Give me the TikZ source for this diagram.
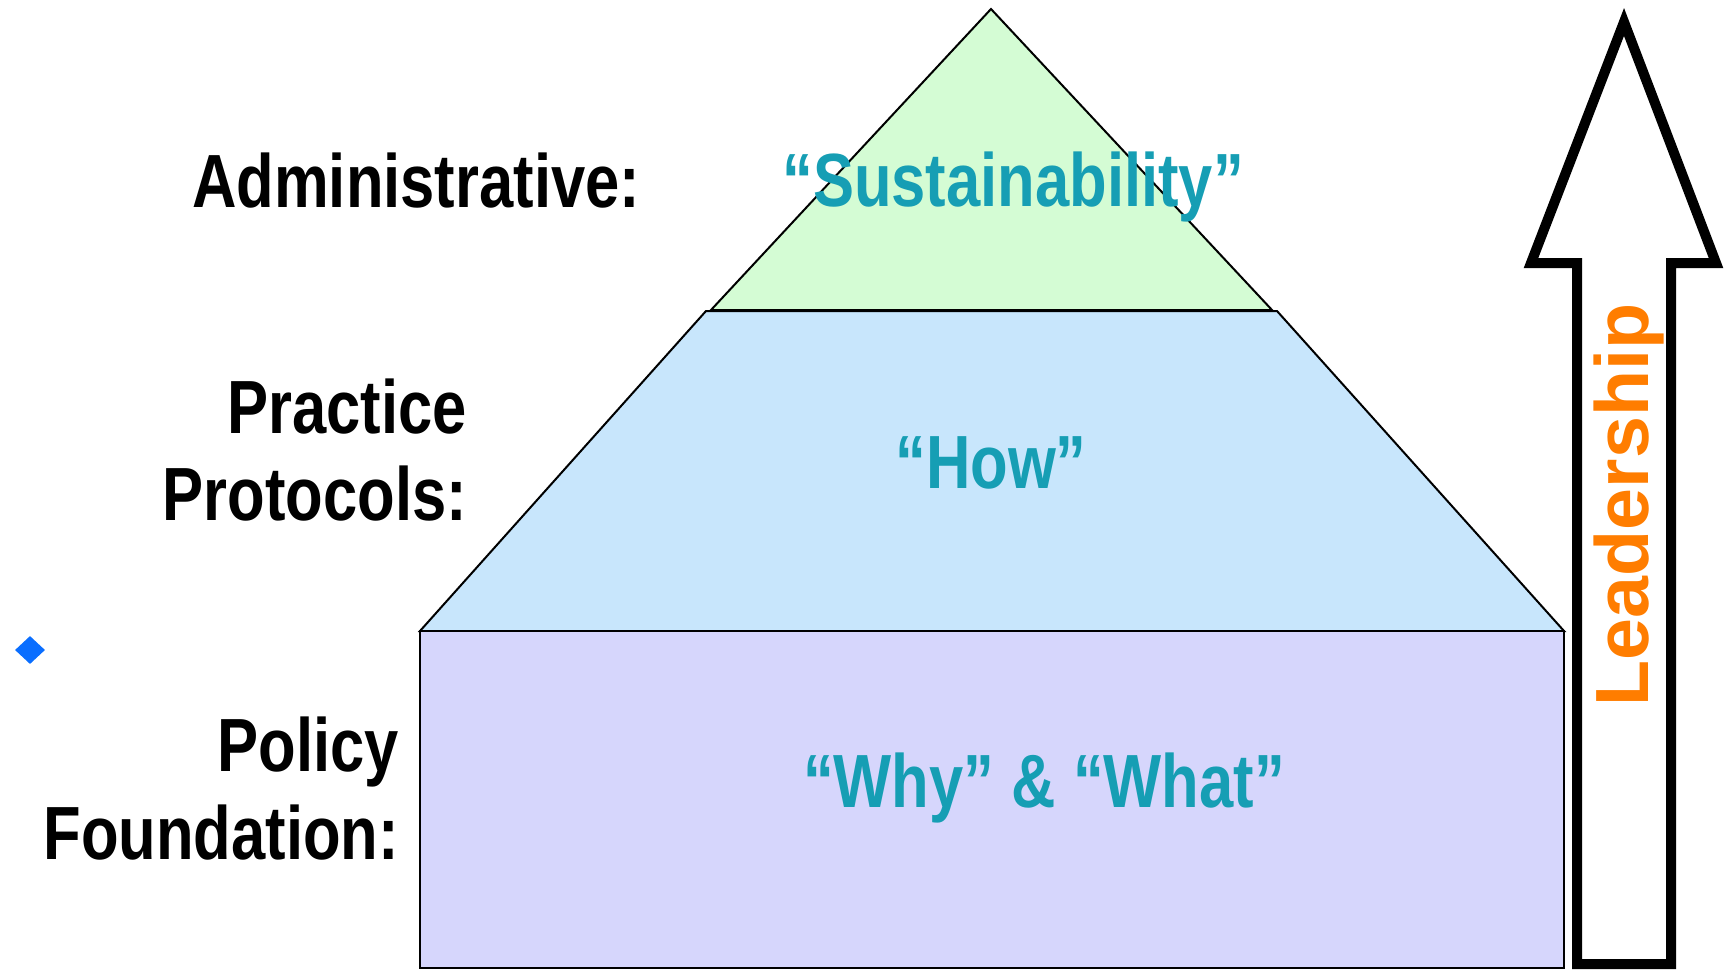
\documentclass[tikz,border=0pt]{standalone}
\usepackage{fontspec}
\setmainfont{Liberation Sans}
\newfontfamily\condfont[FakeStretch=0.816]{Liberation Sans}
\usetikzlibrary{shapes.geometric}
\definecolor{tealtxt}{RGB}{22,158,180}
\definecolor{greenfill}{RGB}{212,252,212}
\definecolor{bluefill}{RGB}{200,230,252}
\definecolor{purplefill}{RGB}{214,214,252}
\definecolor{orangetxt}{RGB}{255,125,0}
\definecolor{dotblue}{RGB}{10,110,255}
\tikzset{
  sidelbl/.style={font=\condfont\bfseries\fontsize{75.4}{87}\selectfont, inner sep=0pt, text=black},
  midlbl/.style={font=\condfont\bfseries\fontsize{75.4}{87}\selectfont, inner sep=0pt, text=tealtxt},
  layer/.style={draw=black, line width=2pt, line join=miter},
  bigarrow/.style={draw=black, fill=white, line width=10pt, line join=miter, miter limit=10}
}
\begin{document}
\begin{tikzpicture}[x=1pt,y=-1pt]
\useasboundingbox (0,0) rectangle (1727,971);
% layers
\path[layer, fill=greenfill] (991,9) -- (1272,310) -- (711,310) -- cycle;
\path[layer, fill=bluefill] (706,311) -- (1277,311) -- (1564,631) -- (420,631) -- cycle;
\path[layer, fill=purplefill, line width=1.6pt] (420,631) rectangle (1564,968);
% arrow
\path[bigarrow] (1624,22) -- (1716,263) -- (1671,263) -- (1671,964) -- (1577,964) -- (1577,263) -- (1531,263) -- cycle;
\node[font=\bfseries\fontsize{75.4}{87}\selectfont, text=orangetxt, inner sep=0pt, rotate=90, anchor=base] (lead) at (1648,505) {Leadership};
% labels
\node[sidelbl, anchor=base west] (adm) at (192,207) {Administrative:};
\node[sidelbl, anchor=base east] (prac) at (467,433) {Practice};
\node[sidelbl, anchor=base east] (prot) at (467,520) {Protocols:};
\node[sidelbl, anchor=base east] (pol) at (399,771) {Policy};
\node[sidelbl, anchor=base east] (fou) at (399,859) {Foundation:};
\node[midlbl, anchor=base] (sus) at (1013,206) {“Sustainability”};
\node[midlbl, anchor=base] (how) at (991,488) {“How”};
\node[midlbl, anchor=base] (ww) at (1044,807) {“Why” \& “What”};
% bullet
\node[diamond, fill=dotblue, minimum width=30pt, minimum height=28pt, inner sep=0pt] (dot) at (30,650) {};
\end{tikzpicture}
\end{document}
